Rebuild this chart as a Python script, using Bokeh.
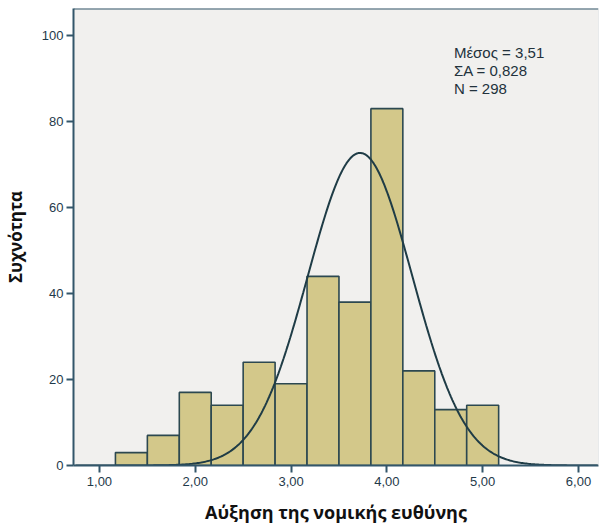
import numpy as np
from bokeh.plotting import figure
from bokeh.models import FixedTicker, Label, Span, Range1d
from bokeh.embed import file_html
from bokeh.resources import INLINE

# ---- data ----
counts = [3, 7, 17, 14, 24, 19, 44, 38, 83, 22, 13, 14]
bin_start = 7 / 6
bin_width = 1 / 3
x_ticks = [1, 2, 3, 4, 5, 6]
x_tick_labels = ["1,00", "2,00", "3,00", "4,00", "5,00", "6,00"]
y_ticks = [0, 20, 40, 60, 80, 100]
stat_lines = ["Μέσος = 3,51", "ΣΑ = 0,828", "N = 298"]
n_total = 298
curve_mean = 3.72
curve_sd = 0.545

# ---- styles ----
AXIS_COL = "#33566a"
TICKLAB_COL = "#1f3a4a"
BAR_FILL = "#d3c88a"
BAR_LINE = "#2c4850"
CURVE_COL = "#1f3c46"
BG = "#f1f0ee"

p = figure(width=602, height=531, output_backend="svg", toolbar_location=None,
           x_range=Range1d(0.729, 6.209), y_range=Range1d(0, 106.3),
           min_border_left=73, min_border_right=4, min_border_top=8,
           min_border_bottom=66)
p.background_fill_color = BG
p.border_fill_color = "white"
p.outline_line_color = None
p.grid.grid_line_color = None

# bars
edges = bin_start + bin_width * np.arange(len(counts) + 1)
p.quad(left=edges[:-1], right=edges[1:], top=counts, bottom=0,
       fill_color=BAR_FILL, line_color=BAR_LINE, line_width=1.6)

# normal curve
xs = np.linspace(0.75, 6.2, 400)
scale = n_total * bin_width / (curve_sd * np.sqrt(2 * np.pi))
ys = scale * np.exp(-0.5 * ((xs - curve_mean) / curve_sd) ** 2)
p.line(xs, ys, line_color=CURVE_COL, line_width=2)

# frame top/right lines
p.add_layout(Span(location=106.3, dimension="width", line_color=AXIS_COL, line_width=2))
p.add_layout(Span(location=6.209, dimension="height", line_color="#d8dde0", line_width=1))

# axes
for ax in (p.xaxis[0], p.yaxis[0]):
    ax.axis_line_color = AXIS_COL
    ax.axis_line_width = 2
    ax.major_tick_line_color = AXIS_COL
    ax.major_tick_line_width = 2
    ax.major_tick_in = 0
    ax.major_tick_out = 7
    ax.minor_tick_line_color = None
    ax.major_label_text_font = "Liberation Sans"
    ax.major_label_text_font_size = "13px"
    ax.major_label_text_color = TICKLAB_COL
    ax.axis_label_text_font = "Open Sans"
    ax.axis_label_text_font_style = "bold"
    ax.axis_label_text_color = "#111111"

p.xaxis.ticker = FixedTicker(ticks=x_ticks)
p.xaxis.major_label_overrides = {t: s for t, s in zip(x_ticks, x_tick_labels)}
p.xaxis.major_label_standoff = 4
p.xaxis.axis_label = "Αύξηση της νομικής ευθύνης"
p.xaxis.axis_label_text_font_size = "18px"
p.xaxis.axis_label_standoff = 11

p.yaxis.ticker = FixedTicker(ticks=y_ticks)
p.yaxis.major_label_standoff = 3
p.yaxis.major_label_orientation = "horizontal"
p.yaxis.axis_label = "Συχνότητα"
p.yaxis.axis_label_text_font_size = "17px"
p.yaxis.axis_label_standoff = 12

# statistics text
for i, s in enumerate(stat_lines):
    p.add_layout(Label(x=4.70, y=96.0 - 4.2 * i, text=s, text_font="Liberation Sans",
                       text_font_size="15px", text_color="#22323c",
                       text_baseline="middle"))

open("out.html", "w").write(file_html(p, INLINE))
